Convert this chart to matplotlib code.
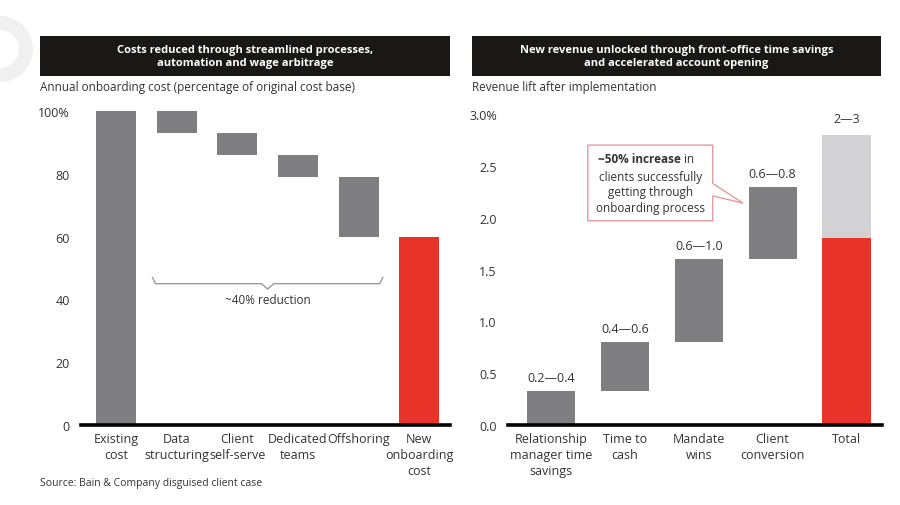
#!/usr/bin/env python3
"""Onboarding cost reduction and revenue lift waterfalls."""

import matplotlib
matplotlib.use("Agg")
import matplotlib.pyplot as plt
from matplotlib.patches import Rectangle, Wedge, Polygon

plt.rcParams['font.family'] = ['Open Sans', 'DejaVu Sans']

# left panel: cost waterfall (percent of original cost base)
cost_labels = ["Existing\ncost", "Data\nstructuring", "Client\nself-serve",
               "Dedicated\nteams", "Offshoring", "New\nonboarding\ncost"]
cost_bottoms = [0, 93, 86, 79, 60, 0]
cost_tops = [100, 100, 93, 86, 79, 60]
cost_ticks = [0, 20, 40, 60, 80, 100]
cost_ticklabels = ["0", "20", "40", "60", "80", "100%"]

# right panel: revenue lift waterfall (percent)
rev_labels = ["Relationship\nmanager time\nsavings", "Time to\ncash", "Mandate\nwins",
              "Client\nconversion", "Total"]
rev_bottoms = [0, 0.33, 0.8, 1.6]
rev_tops = [0.33, 0.8, 1.6, 2.3]
rev_ranges = ["0.2\u20140.4", "0.4\u20140.6", "0.6\u20141.0", "0.6\u20140.8"]
total_low = 1.8
total_high = 2.8
total_range = "2\u20143"
rev_ticks = [0.0, 0.5, 1.0, 1.5, 2.0, 2.5, 3.0]
rev_ticklabels = ["0.0", "0.5", "1.0", "1.5", "2.0", "2.5", "3.0%"]

GRAY = '#7f7f82'
RED = '#e8332a'
LIGHT = '#d2d2d4'
TXT = '#333333'

W, H = 900, 506
fig = plt.figure(figsize=(9, 5.06), dpi=100)


def fx(px):
    return px / W


def fy(py):
    return 1 - py / H


# decorative ring top-left (drawn in inches so it stays round)
fig.add_artist(Wedge((0.0, (H - 50) / 100), 0.33, 0, 360, width=0.14,
                     transform=fig.dpi_scale_trans, color='#f0f0f0', lw=0))

# title boxes
for x0, x1, title in [(40, 450, "Costs reduced through streamlined processes,\nautomation and wage arbitrage"),
                      (472, 881, "New revenue unlocked through front-office time savings\nand accelerated account opening")]:
    fig.add_artist(Rectangle((fx(x0), fy(77)), fx(x1 - x0), (77 - 37) / H,
                             transform=fig.transFigure, color='#1a1717', lw=0))
    fig.text(fx((x0 + x1) / 2), fy(57), title, color='white', fontsize=8, fontweight='bold',
             ha='center', va='center', linespacing=1.3)

fig.text(fx(40), fy(88), "Annual onboarding cost (percentage of original cost base)",
         fontsize=8.5, color=TXT, va='center')
fig.text(fx(472), fy(88), "Revenue lift after implementation",
         fontsize=8.5, color=TXT, va='center')
fig.text(fx(40), fy(484), "Source: Bain & Company disguised client case",
         fontsize=7.5, color=TXT, va='center')


def style(ax):
    for s in ax.spines.values():
        s.set_visible(False)
    ax.tick_params(axis='both', length=0, colors=TXT, labelsize=9)
    ax.tick_params(axis='x', pad=5)
    ax.tick_params(axis='y', pad=8)
    ax.axhline(0, color='black', lw=2.6, clip_on=False, zorder=3)


# left axes
ax1 = fig.add_axes([fx(81), fy(426), fx(450 - 81), (426 - 112) / H])
xs = range(len(cost_labels))
colors = [GRAY] * (len(cost_labels) - 1) + [RED]
ax1.bar(xs, [t - b for t, b in zip(cost_tops, cost_bottoms)], bottom=cost_bottoms,
        width=0.66, color=colors)
ax1.set_xlim(-0.58, 5.51)
ax1.set_ylim(0, 100)
ax1.set_yticks(cost_ticks, cost_ticklabels)
ax1.set_xticks(list(xs), cost_labels, linespacing=1.3, fontsize=8)
style(ax1)

# brace for the reduction
bx0, bx1, by = 0.6, 4.4, 45
bmid = (bx0 + bx1) / 2
ax1.plot([bx0, bx0 + 0.05, bmid - 0.1, bmid, bmid + 0.1, bx1 - 0.05, bx1],
         [47, 45, 45, 43.3, 45, 45, 47], color='#9a9a9a', lw=1)
ax1.text(bmid, 40, "~40% reduction", ha='center', va='center', fontsize=8.5, color=TXT)

# right axes
ax2 = fig.add_axes([fx(508), fy(426), fx(882 - 508), (426 - 115) / H])
rx = list(range(len(rev_bottoms)))
ax2.bar(rx, [t - b for t, b in zip(rev_tops, rev_bottoms)], bottom=rev_bottoms,
        width=0.65, color=GRAY)
tx = len(rev_bottoms)
ax2.bar(tx, total_low, width=0.65, color=RED)
ax2.bar(tx, total_high - total_low, bottom=total_low, width=0.65, color=LIGHT)
for x, top, lab in zip(rx, rev_tops, rev_ranges):
    ax2.annotate(lab, (x, top), xytext=(0, 5), textcoords='offset points',
                 ha='center', va='bottom', fontsize=9, color=TXT)
ax2.annotate(total_range, (tx, total_high), xytext=(0, 7), textcoords='offset points',
             ha='center', va='bottom', fontsize=9, color=TXT)
ax2.set_xlim(-0.58, 4.48)
ax2.set_ylim(0, 3)
ax2.set_yticks(rev_ticks, rev_ticklabels)
ax2.set_xticks(list(range(len(rev_labels))), rev_labels, linespacing=1.3, fontsize=8)
style(ax2)

# callout bubble
bl, br, bb, bt = 0.5, 2.19, 1.97, 2.7
tail_y0, tail_y1 = 2.33, 2.21
tip = (2.6, 2.14)
ax2.add_patch(Polygon([(bl, bb), (bl, bt), (br, bt), (br, tail_y0), tip, (br, tail_y1), (br, bb)],
                      closed=True, facecolor='white', edgecolor='#e89a9a', lw=1, zorder=4))
cx = (bl + br) / 2
t1 = ax2.text(cx - 0.15, 2.57, "~50% increase", ha='center', va='center', fontsize=8.5,
              fontweight='bold', color=TXT, zorder=5)
ax2.annotate(" in", xy=(1, 0), xycoords=t1, ha='left', va='bottom', fontsize=8.5,
             color=TXT, zorder=5)
ax2.text(cx, 2.25, "clients successfully\ngetting through\nonboarding process",
         ha='center', va='center', fontsize=8.5, color=TXT, linespacing=1.25, zorder=5)

fig.savefig("out.png", dpi=100)
